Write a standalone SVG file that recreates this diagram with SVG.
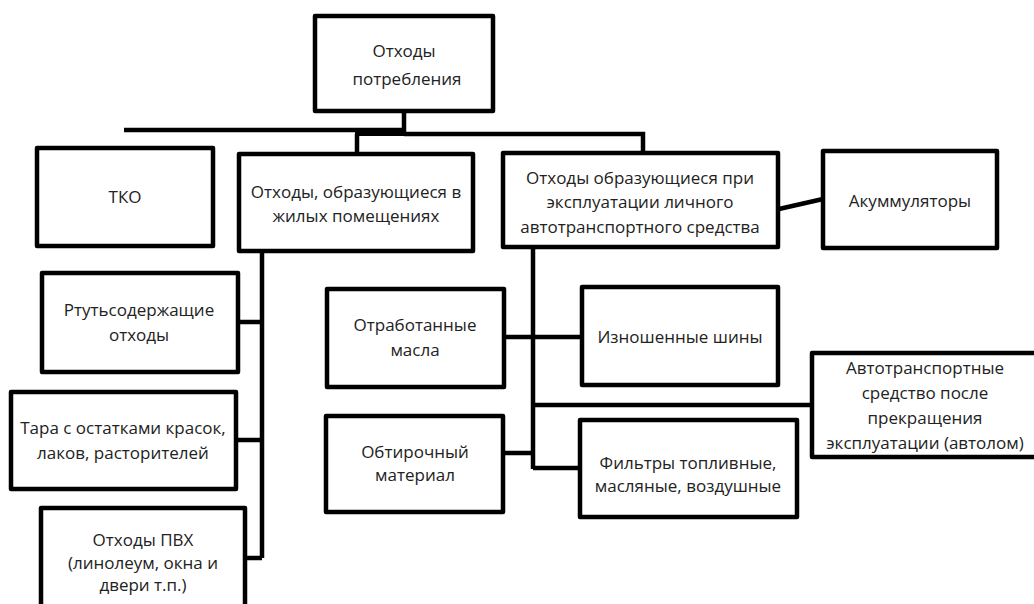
<svg xmlns="http://www.w3.org/2000/svg" width="1034" height="604" viewBox="0 0 1034 604">
<style>
.b{fill:#fff;stroke:#000;stroke-width:4.5;stroke-linejoin:round}
.c{fill:none;stroke:#000;stroke-width:4.5}
text{font-family:"Open Sans","Liberation Sans",sans-serif;font-size:17px;fill:#222;text-anchor:middle}
</style>
<rect width="1034" height="604" fill="#fff"/>
<g id="connectors">
<path class="c" d="M404 111V132M124 130H404M404 134H643V153M357 134V154"/>
<rect x="355" y="128" width="49" height="8" fill="#000"/>
<path class="c" d="M262 251V558M238 322H262M236 440H262M245 558H262"/>
<path class="c" d="M779 209L823 199"/>
<path class="c" d="M533 247V469M504 337H582M533 405H812M533 468H580M503 453H531"/>
</g>
<g id="n0"><rect class="b" x="315" y="16" width="178" height="95"/><text x="404" y="57">Отходы</text><text x="407" y="85">потребления</text></g>
<g id="n1"><rect class="b" x="37" y="148" width="176" height="98"/><text x="125" y="203">ТКО</text></g>
<g id="n2"><rect class="b" x="239" y="154" width="234" height="97"/><text x="356" y="198">Отходы, образующиеся в</text><text x="356" y="222">жилых помещениях</text></g>
<g id="n3"><rect class="b" x="503" y="153" width="275" height="94"/><text x="640" y="184">Отходы образующиеся при</text><text x="640" y="208">эксплуатации личного</text><text x="640" y="233">автотранспортного средства</text></g>
<g id="n4"><rect class="b" x="823" y="151" width="174" height="97"/><text x="910" y="207">Акуммуляторы</text></g>
<g id="n5"><rect class="b" x="42" y="273" width="196" height="99"/><text x="139" y="316">Ртутьсодержащие</text><text x="139" y="341">отходы</text></g>
<g id="n6"><rect class="b" x="11" y="392" width="225" height="97"/><text x="123" y="434">Тара с остатками красок,</text><text x="123" y="459">лаков, расторителей</text></g>
<g id="n7"><rect class="b" x="41" y="508" width="204" height="104"/><text x="143" y="546">Отходы ПВХ</text><text x="143" y="569">(линолеум, окна и</text><text x="143" y="591">двери т.п.)</text></g>
<g id="n8"><rect class="b" x="327" y="289" width="177" height="98"/><text x="415" y="331">Отработанные</text><text x="415" y="356">масла</text></g>
<g id="n9"><rect class="b" x="582" y="287" width="196" height="98"/><text x="680" y="343">Изношенные шины</text></g>
<g id="n10"><rect class="b" x="812" y="353" width="230" height="104"/><text x="925" y="374">Автотранспортные</text><text x="925" y="399">средство после</text><text x="925" y="424">прекращения</text><text x="925" y="449">эксплуатации (автолом)</text></g>
<g id="n11"><rect class="b" x="326" y="416" width="177" height="96"/><text x="415" y="458">Обтирочный</text><text x="415" y="481">материал</text></g>
<g id="n12"><rect class="b" x="580" y="420" width="217" height="97"/><text x="688" y="469">Фильтры топливные,</text><text x="688" y="492">масляные, воздушные</text></g>
</svg>
